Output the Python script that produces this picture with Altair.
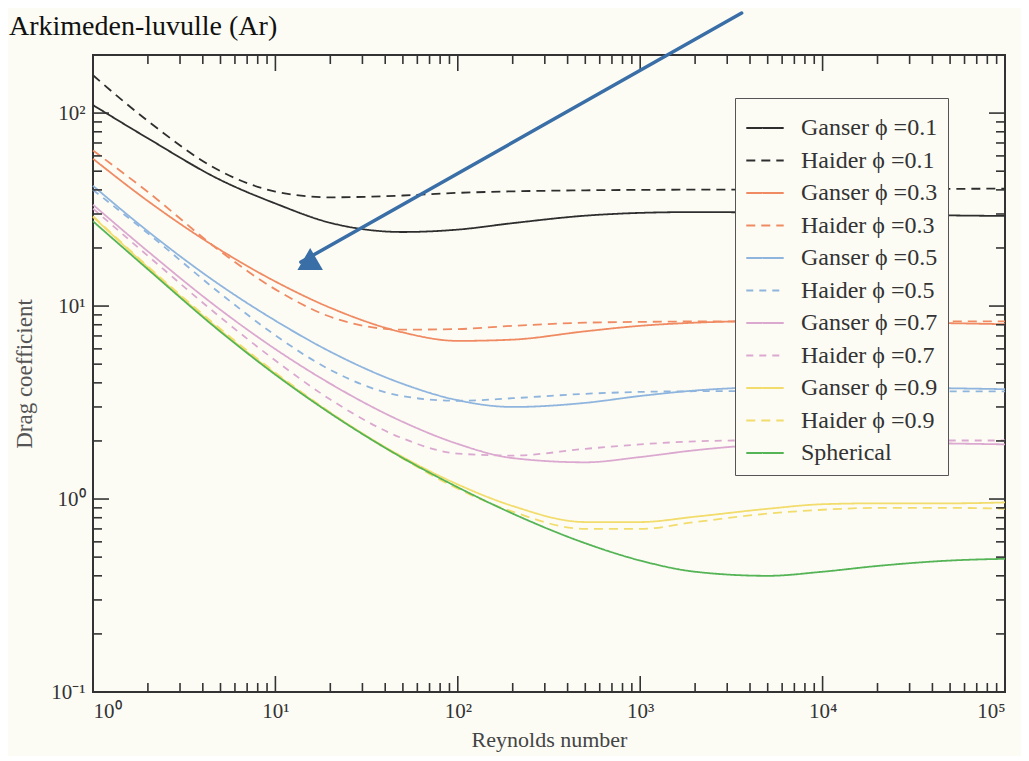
import altair as alt
import pandas as pd

# ---------------- data ----------------
re_values = [1, 2, 5, 10, 20, 50, 100, 200, 500, 1000, 2000, 5000, 10000, 20000, 50000, 100000]

ganser_01 = [110, 74, 45, 34, 27, 24.2, 24.9, 26.9, 29.4, 30.4, 30.7, 30.5, 30.2, 29.9, 29.5, 29.3]
haider_01 = [157, 91, 50, 39.2, 36.6, 37.4, 38.6, 39.3, 39.8, 40.0, 40.1, 40.2, 40.3, 40.4, 40.5, 40.6]
ganser_03 = [58, 35, 19.5, 13.4, 9.8, 7.3, 6.6, 6.7, 7.4, 7.9, 8.2, 8.35, 8.33, 8.25, 8.15, 8.05]
haider_03 = [64, 39, 19.2, 12.2, 8.8, 7.55, 7.6, 7.9, 8.2, 8.28, 8.32, 8.33, 8.33, 8.33, 8.32, 8.32]
ganser_05 = [42, 24.4, 12.8, 8.4, 5.8, 3.95, 3.25, 3.0, 3.15, 3.42, 3.65, 3.8, 3.82, 3.8, 3.75, 3.71]
haider_05 = [40, 23.8, 11.6, 7.05, 4.67, 3.41, 3.23, 3.33, 3.51, 3.59, 3.62, 3.63, 3.63, 3.62, 3.61, 3.61]
ganser_07 = [33.5, 19.2, 9.56, 5.98, 3.96, 2.51, 1.93, 1.63, 1.55, 1.65, 1.79, 1.92, 1.96, 1.96, 1.94, 1.92]
haider_07 = [32, 18.2, 8.74, 5.22, 3.28, 2.06, 1.72, 1.68, 1.82, 1.92, 1.99, 2.02, 2.03, 2.02, 2.01, 2.01]
ganser_09 = [29, 15.85, 7.47, 4.46, 2.8, 1.65, 1.19, 0.92, 0.76, 0.76, 0.81, 0.89, 0.94, 0.95, 0.95, 0.96]
haider_09 = [29.2, 16.05, 7.6, 4.52, 2.81, 1.62, 1.13, 0.86, 0.70, 0.70, 0.76, 0.84, 0.88, 0.90, 0.90, 0.89]
spherical = [27.5, 15.5, 7.36, 4.41, 2.78, 1.63, 1.15, 0.84, 0.59, 0.48, 0.42, 0.40, 0.42, 0.45, 0.48, 0.49]

series_names = [
    "Ganser ϕ =0.1", "Haider ϕ =0.1",
    "Ganser ϕ =0.3", "Haider ϕ =0.3",
    "Ganser ϕ =0.5", "Haider ϕ =0.5",
    "Ganser ϕ =0.7", "Haider ϕ =0.7",
    "Ganser ϕ =0.9", "Haider ϕ =0.9",
    "Spherical",
]
series_values = [ganser_01, haider_01, ganser_03, haider_03, ganser_05, haider_05,
                 ganser_07, haider_07, ganser_09, haider_09, spherical]
series_colors = ["#2e2e2e", "#2e2e2e", "#f08a62", "#f08a62", "#8fb5de", "#8fb5de",
                 "#dba8cf", "#dba8cf", "#f2dc6c", "#f2dc6c", "#55b455"]
series_dashes = [[1, 0], [9, 6], [1, 0], [9, 6], [1, 0], [7, 6],
                 [1, 0], [7, 6], [1, 0], [9, 6], [1, 0]]

x_tick_values = [1, 10, 100, 1000, 10000, 100000]
x_tick_labels = ["10⁰", "10¹", "10²", "10³", "10⁴", "10⁵"]
y_tick_values = [0.1, 1, 10, 100]
y_tick_labels = ["10⁻¹", "10⁰", "10¹", "10²"]

x_minor = [k * 10 ** n for n in range(0, 5) for k in range(2, 10)]
y_minor = [round(k * 10.0 ** n, 6) for n in range(-1, 2) for k in range(2, 10)] + [200]

heading = ["Arkimeden-luvulle (Ar)"]

# arrow annotation (data coordinates)
arrow_re = [3600, 13.8]
arrow_cd = [330, 16.9]
arrow_head_re = [14.9]
arrow_head_cd = [16.4]

# ---------------- build ----------------
W, H = 912, 637
MAJ, MIN = 16, 9

rows = []
for name, vals in zip(series_names, series_values):
    for r, c in zip(re_values, vals):
        rows.append({"Re": r, "Cd": c, "series": name})
df = pd.DataFrame(rows)

def label_expr(values, labels):
    expr = "''"
    for v, l in reversed(list(zip(values, labels))):
        expr = f"(abs(log(datum.value) - log({v})) < 0.01 ? '{l}' : {expr})"
    return expr

xscale = alt.Scale(type="log", domain=[1, 100000], nice=False)
yscale = alt.Scale(type="log", domain=[0.1, 200], nice=False)

serif = "Liberation Serif"

legend = alt.Legend(
    title=None, orient="none", legendX=642, legendY=43,
    symbolType="stroke", symbolSize=1400, symbolStrokeWidth=2,
    labelFont=serif, labelFontSize=24, labelColor="#333",
    rowPadding=0.5, padding=10, strokeColor="#555", fillColor="#fcfcf5",
    labelOffset=16, labelLimit=300,
)

lines = alt.Chart(df).mark_line(interpolate="monotone", strokeWidth=1.8).encode(
    x=alt.X("Re:Q", scale=xscale, title="Reynolds number",
            axis=alt.Axis(values=x_tick_values, labelExpr=label_expr(x_tick_values, x_tick_labels),
                          ticks=False, grid=False, domain=False, labelFont=serif, labelFontSize=21,
                          labelColor="#333", labelPadding=8, titleFont=serif, titleFontSize=22,
                          titleFontWeight="normal", titleColor="#444", titlePadding=8)),
    y=alt.Y("Cd:Q", scale=yscale, title="Drag coefficient",
            axis=alt.Axis(values=y_tick_values, labelExpr=label_expr(y_tick_values, y_tick_labels),
                          ticks=False, grid=False, domain=False, labelFont=serif, labelFontSize=21,
                          labelColor="#333", labelPadding=8, titleFont=serif, titleFontSize=23,
                          titleFontWeight="normal", titleColor="#555", titlePadding=14)),
    color=alt.Color("series:N", scale=alt.Scale(domain=series_names, range=series_colors),
                    sort=series_names, legend=legend),
    strokeDash=alt.StrokeDash("series:N", scale=alt.Scale(domain=series_names, range=series_dashes),
                              sort=series_names, legend=legend),
)

def xticks(values, length, top):
    d = pd.DataFrame({"Re": values})
    if top:
        yy, yy2 = alt.value(0), alt.value(length)
    else:
        yy, yy2 = alt.value(H), alt.value(H - length)
    return alt.Chart(d).mark_rule(color="#333", strokeWidth=1.6).encode(
        x=alt.X("Re:Q", scale=xscale), y=yy, y2=yy2)

def yticks(values, length, right):
    d = pd.DataFrame({"Cd": values})
    if right:
        xx, xx2 = alt.value(W), alt.value(W - length)
    else:
        xx, xx2 = alt.value(0), alt.value(length)
    return alt.Chart(d).mark_rule(color="#333", strokeWidth=1.6).encode(
        y=alt.Y("Cd:Q", scale=yscale), x=xx, x2=xx2)

tick_layers = [
    xticks(x_tick_values, MAJ, False), xticks(x_minor, MIN, False),
    xticks(x_tick_values, MAJ, True), xticks(x_minor, MIN, True),
    yticks(y_tick_values, MAJ, False), yticks(y_minor, MIN, False),
    yticks(y_tick_values, MAJ, True), yticks(y_minor, MIN, True),
]

arrow_df = pd.DataFrame({"x1": [arrow_re[0]], "x2": [arrow_re[1]],
                         "y1": [arrow_cd[0]], "y2": [arrow_cd[1]]})
arrow = alt.Chart(arrow_df).mark_rule(color="#3a6ea6", strokeWidth=3.5, strokeCap="round").encode(
    x=alt.X("x1:Q", scale=xscale), x2="x2:Q",
    y=alt.Y("y1:Q", scale=yscale), y2="y2:Q")
head_df = pd.DataFrame({"Re": arrow_head_re, "Cd": arrow_head_cd})
head = alt.Chart(head_df).mark_point(shape="triangle-up", filled=True, size=650, angle=240,
                                     color="#3a6ea6", opacity=1).encode(
    x=alt.X("Re:Q", scale=xscale), y=alt.Y("Cd:Q", scale=yscale))

title_text = alt.Chart(pd.DataFrame({"t": heading})).mark_text(
    font=serif, fontSize=28, color="#111", align="left", baseline="alphabetic"
).encode(text="t:N", x=alt.value(-84), y=alt.value(-20))

chart = alt.layer(lines, *tick_layers, arrow, head, title_text).properties(
    width=W, height=H,
    autosize=alt.AutoSizeParams(type="none"),
    padding={"left": 85, "top": 47, "right": 16, "bottom": 64},
).configure(background="#fcfcf5").configure_view(stroke="#333", strokeWidth=2)

chart.save("out.html", embed_options={"renderer": "svg", "actions": False})
